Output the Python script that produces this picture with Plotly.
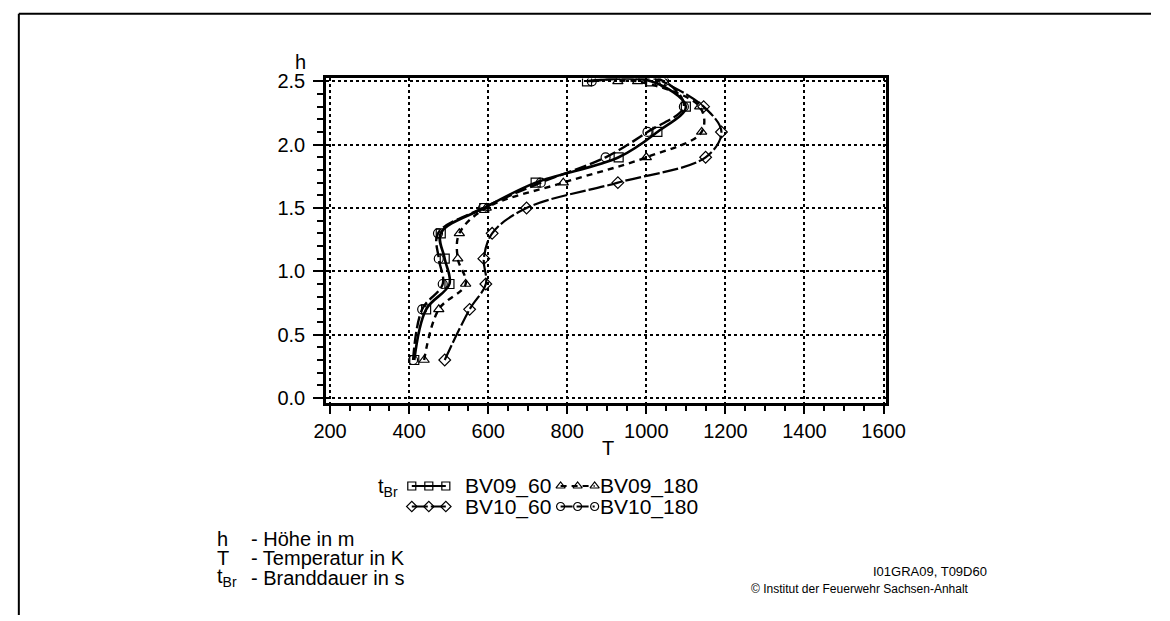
import plotly.graph_objects as go

# Measured temperature profiles over height (fire tests BV09 / BV10);
# the ceiling level 2.5 m carries two readings per test.
h_bv09_60 = [0.3, 0.7, 0.9, 1.1, 1.3, 1.5, 1.7, 1.9, 2.1, 2.3, 2.5, 2.5]
t_bv09_60 = [413, 443, 502, 490, 480, 590, 720, 930, 1028, 1100, 1012, 850]
h_bv09_180 = [0.3, 0.7, 0.9, 1.1, 1.3, 1.5, 1.7, 1.9, 2.1, 2.3, 2.5, 2.5]
t_bv09_180 = [438, 475, 543, 523, 527, 595, 790, 1000, 1140, 1135, 978, 928]
h_bv10_60 = [0.3, 0.7, 0.9, 1.1, 1.3, 1.5, 1.7, 1.9, 2.1, 2.3, 2.5]
t_bv10_60 = [490, 553, 594, 589, 610, 697, 928, 1150, 1190, 1145, 1040]
h_bv10_180 = [0.3, 0.7, 0.9, 1.1, 1.3, 1.5, 1.7, 1.9, 2.1, 2.3, 2.5, 2.5]
t_bv10_180 = [410, 433, 485, 475, 473, 587, 733, 897, 1003, 1095, 1045, 862]

x_ticks = [200, 400, 600, 800, 1000, 1200, 1400, 1600]
y_ticks = [0.0, 0.5, 1.0, 1.5, 2.0, 2.5]

W, H = 1170, 621
FONT = "Liberation Sans, Arial, sans-serif"

series = [
    ("BV09_60", h_bv09_60, t_bv09_60, "square-open", "solid", 2.6),
    ("BV09_180", h_bv09_180, t_bv09_180, "triangle-up-open", "6px,5px", 2.4),
    ("BV10_60", h_bv10_60, t_bv10_60, "diamond-open", "16px,3px", 2.2),
    ("BV10_180", h_bv10_180, t_bv10_180, "circle-open", "12px,4px", 2.4),
]

fig = go.Figure()
for name, hs, temps, sym, dash, lw in series:
    fig.add_trace(go.Scatter(
        x=temps, y=hs, mode="lines+markers", name=name,
        line=dict(color="black", width=lw, dash=dash, shape="spline", smoothing=1.0),
        marker=dict(symbol=sym, size=9, color="black", line=dict(width=1.2, color="black")),
        showlegend=False,
    ))

# Legend samples drawn on a separate pixel-space axis pair spanning the page
legend_rows = [
    ("BV09_60", "square-open", "solid", 410, 445, 463, 489),
    ("BV09_180", "triangle-up-open", "6px,5px", 563, 598, 601, 489),
    ("BV10_60", "diamond-open", "16px,3px", 410, 445, 463, 510),
    ("BV10_180", "circle-open", "12px,4px", 563, 598, 601, 510),
]
for name, sym, dash, xa, xb, xt, yc in legend_rows:
    fig.add_trace(go.Scatter(
        x=[xa, (xa + xb) / 2, xb], y=[yc, yc, yc], mode="lines+markers",
        xaxis="x2", yaxis="y2", showlegend=False, hoverinfo="skip",
        line=dict(color="black", width=2, dash=dash),
        marker=dict(symbol=sym, size=8, color="black", line=dict(width=1.2, color="black")),
    ))

axis_common = dict(
    showline=True, linewidth=3, linecolor="black", mirror=True,
    ticks="outside", tickwidth=2, tickcolor="black",
    showgrid=True, gridcolor="black", gridwidth=1.5, griddash="dot",
    zeroline=False, tickfont=dict(family=FONT, size=20, color="black"),
)

fig.update_layout(
    width=W, height=H, margin=dict(l=0, r=0, t=0, b=0),
    paper_bgcolor="white", plot_bgcolor="rgba(0,0,0,0)",
    font=dict(family=FONT, size=20, color="black"),
    xaxis=dict(
        domain=[322 / W, 898 / W], range=[190.2, 1607.4],
        tickvals=x_ticks, ticklen=8,
        minor=dict(dtick=50, tick0=200, ticklen=5, tickwidth=2, ticks="outside", showgrid=False),
        **axis_common,
    ),
    yaxis=dict(
        domain=[1 - 404 / H, 1 - 72 / H], range=[-0.0386, 2.523],
        tickvals=y_ticks, tickformat=".1f", ticklen=10, ticklabelstandoff=4,
        minor=dict(dtick=0.1, tick0=0, ticklen=6, tickwidth=2, ticks="outside", showgrid=False),
        **axis_common,
    ),
    xaxis2=dict(domain=[0, 1], range=[0, W], visible=False, fixedrange=True, anchor="y2"),
    yaxis2=dict(domain=[0, 1], range=[H, 0], visible=False, fixedrange=True, anchor="x2"),
    showlegend=False,
)


def px(x, y, text, size=20, xanchor="left", yanchor="middle"):
    fig.add_annotation(
        x=x / W, y=1 - y / H, xref="paper", yref="paper", text=text, showarrow=False,
        xanchor=xanchor, yanchor=yanchor, font=dict(family=FONT, size=size, color="black"),
    )


# Axis titles
px(296, 55, "h", xanchor="center")
px(612, 450, "T", xanchor="center")

# Legend labels
px(373, 491, "t<sub>Br</sub>")
for name, sym, dash, xa, xb, xt, yc in legend_rows:
    px(xt, yc, name, size=21)

# Symbol explanations
notes = [("h", "- Höhe in m"), ("T", "- Temperatur in K"), ("t<sub>Br</sub>", "- Branddauer in s")]
for i, (sym, desc) in enumerate(notes):
    yc = 543 + i * 20
    px(208, yc, sym, size=20)
    px(243, yc, desc, size=20)

# Source / reference marks
px(1003, 577, "I01GRA09, T09D60", size=13, xanchor="right")
px(985, 594, "© Institut der Feuerwehr Sachsen-Anhalt", size=12, xanchor="right")

# Page frame (top and left edges)
fig.add_shape(type="line", xref="paper", yref="paper", x0=6 / W, x1=1, y0=1 - 6 / H, y1=1 - 6 / H,
              line=dict(color="black", width=2))
fig.add_shape(type="line", xref="paper", yref="paper", x0=6 / W, x1=6 / W, y0=0, y1=1 - 6 / H,
              line=dict(color="black", width=2))

fig.write_html("out.html")
